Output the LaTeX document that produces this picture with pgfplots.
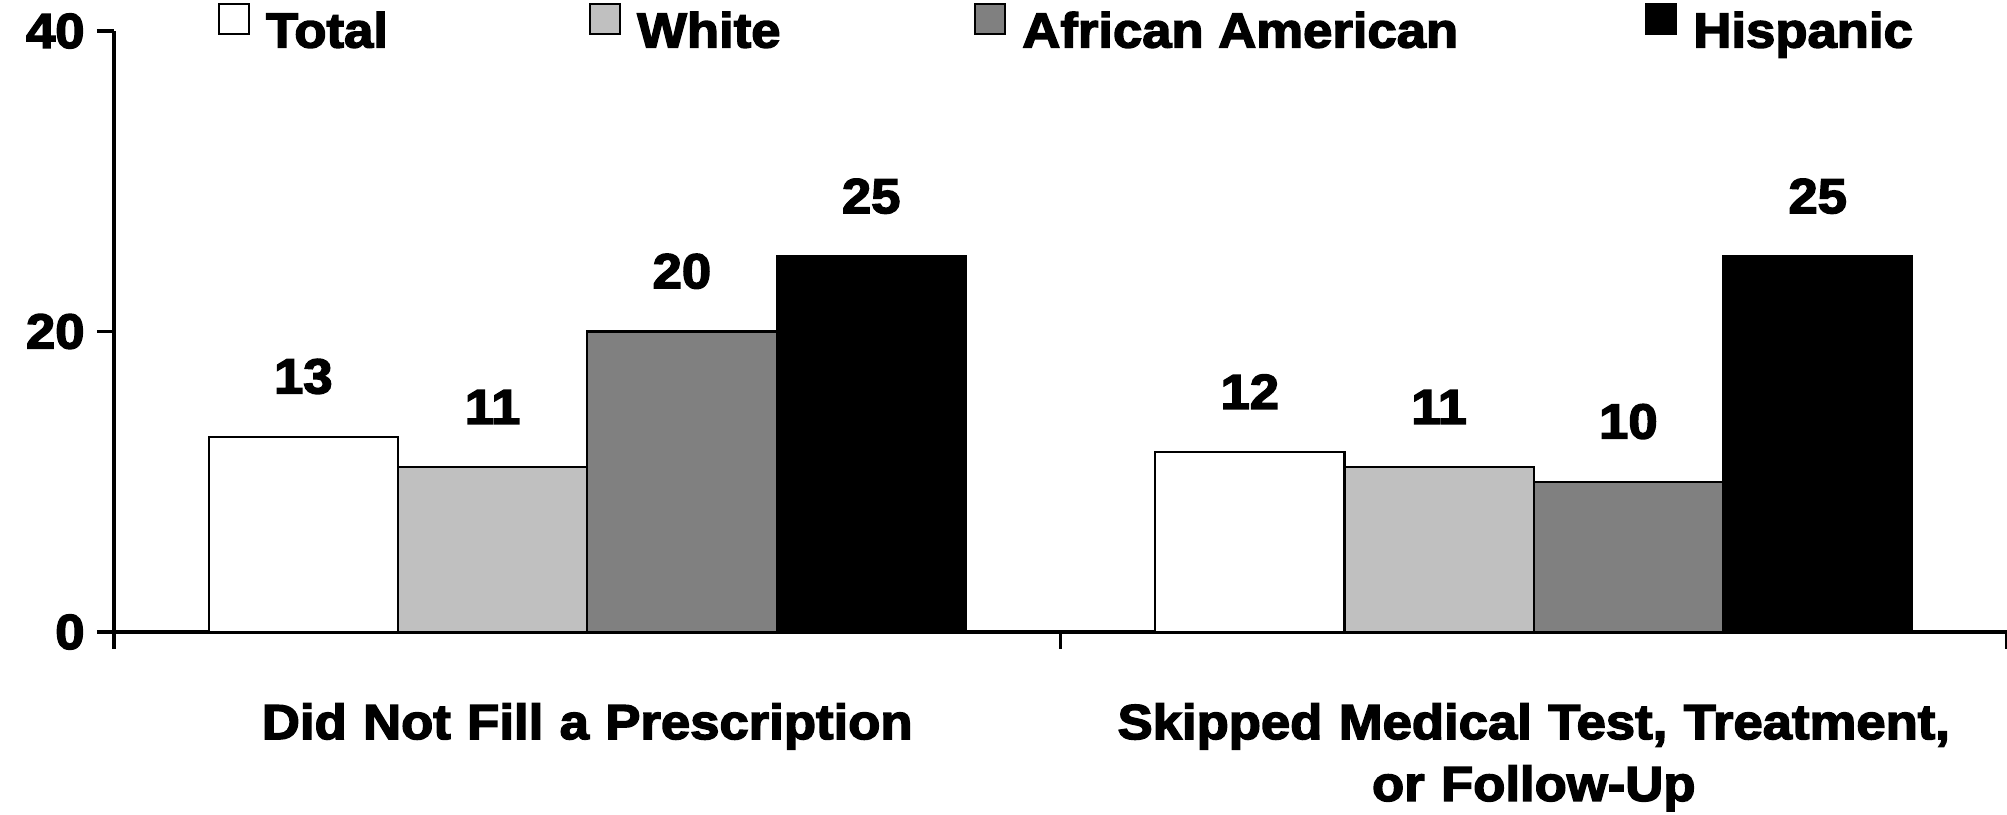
\documentclass[border=0pt]{standalone}
\usepackage{fontspec}
\setmainfont{Liberation Sans}
\newfontfamily\heavy{Liberation Sans Bold}[FakeBold=3, FakeStretch=1.07]
\usepackage{pgfplots}
\pgfplotsset{compat=1.18}
\definecolor{lightgrey}{HTML}{C0C0C0}
\definecolor{midgrey}{HTML}{808080}
\newcommand{\lbl}{\heavy\fontsize{14}{17.6}\selectfont}

\begin{document}
\begin{tikzpicture}
\useasboundingbox (0,0) rectangle (20.07,8.15);
\begin{axis}[
    at={(1.14cm,1.83cm)}, anchor=south west,
    scale only axis, width=18.93cm, height=6.01cm,
    ybar=0pt, bar width=0.2,
    xmin=-0.5, xmax=1.5, ymin=0, ymax=40,
    axis lines*=left,
    axis line style={line width=0.9pt},
    tick align=outside,
    major tick length=0.17cm, minor tick length=0.17cm,
    tick style={line width=0.9pt, black},
    xtick={0,1},
    minor xtick={-0.5,0.5,1.5},
    major x tick style={draw=none},
    xticklabels={Did Not Fill a Prescription, {Skipped Medical Test, Treatment,\\ or Follow-Up}},
    xticklabel style={font=\lbl, align=center, text width=9cm, yshift=-0.42cm},
    ytick={0,20,40},
    yticklabel style={font=\lbl},
    /pgf/number format/assume math mode=true,
    nodes near coords,
    every node near coord/.append style={font=\lbl, yshift=0.3cm},
    legend columns=4,
    legend style={at={(axis description cs:0.049,1.005)}, anchor=west,
        draw=none, fill=none, column sep=0pt, nodes={inner sep=0pt}, font=\lbl},
    legend image code/.code={\draw[#1, draw=black, line width=0.6pt] (0cm,-0.02cm) rectangle (0.3cm,0.28cm);},
]

\addplot[fill=white, draw=black, line width=0.6pt] coordinates {(0,13) (1,12)};
\addplot[fill=lightgrey, draw=black, line width=0.6pt] coordinates {(0,11) (1,11)};
\addplot[fill=midgrey, draw=black, line width=0.6pt] coordinates {(0,20) (1,10)};
\addplot[fill=black, draw=black, line width=0.6pt] coordinates {(0,25) (1,25)};

\legend{{\hspace{0.16cm}\makebox[3.23cm][l]{Total}},
        {\hspace{0.16cm}\makebox[3.37cm][l]{White}},
        {\hspace{0.16cm}\makebox[6.23cm][l]{African American}},
        {\hspace{0.16cm}Hispanic}}

\end{axis}
\end{tikzpicture}
\end{document}
